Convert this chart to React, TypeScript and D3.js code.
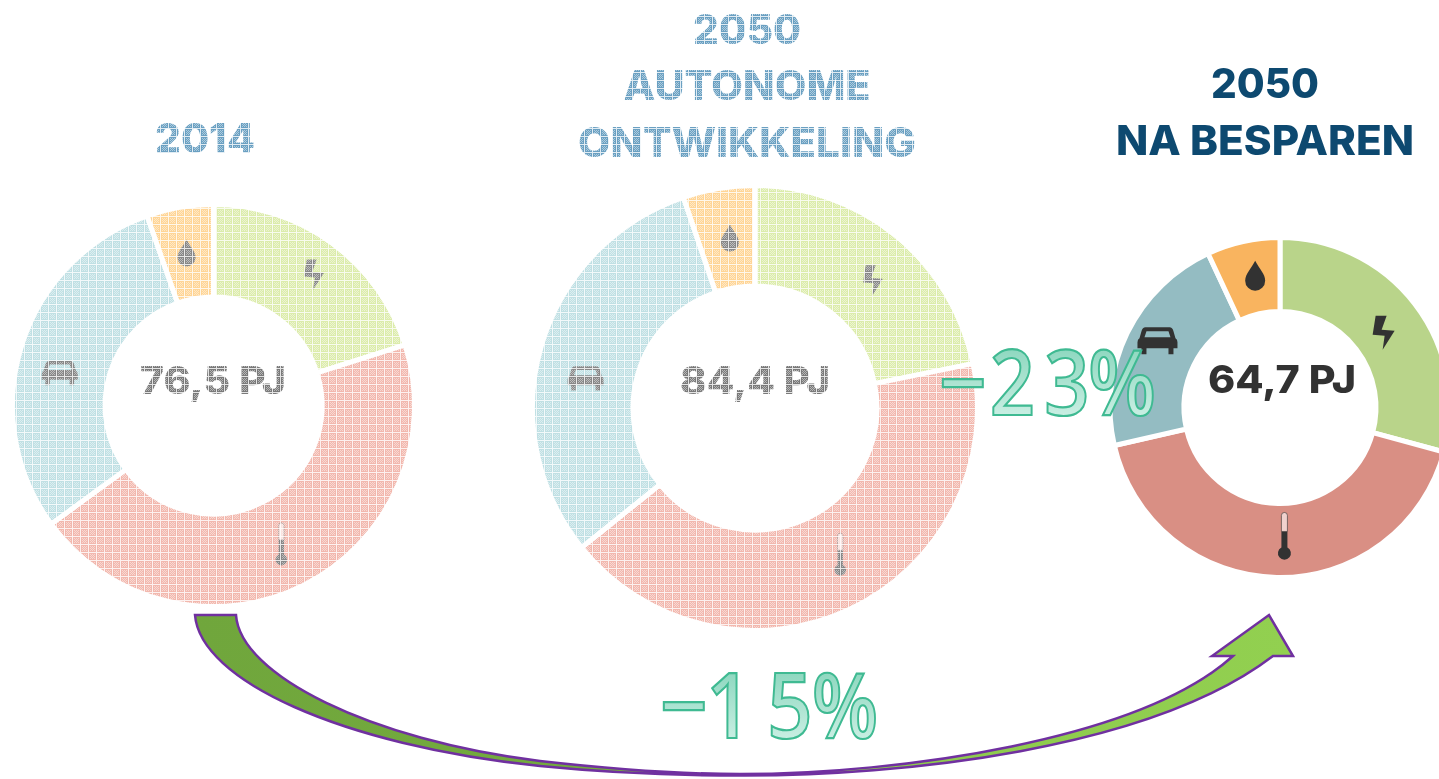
import React from "react";
import * as d3 from "d3";

const W = 1439, H = 779;
const categories = ["Elektriciteit", "Warmte", "Transport", "Olie"];
const values2014 = [15.4, 34.3, 22.7, 4.1];
const valuesAutonoom = [18.4, 35.8, 25.8, 4.4];
const valuesBesparen = [18.9, 27.3, 14.0, 4.5];
const totals = ["76,5 PJ", "84,4 PJ", "64,7 PJ"];
const titles2014 = ["2014"];
const titlesAutonoom = ["2050", "AUTONOME", "ONTWIKKELING"];
const titlesBesparen = ["2050", "NA BESPAREN"];
const savingsToAutonoom = ["−", "2", "3", "%"];
const savingsTo2014 = ["−", "1", "5", "%"];
const fadedColors = ["#dcecab", "#f2b8ae", "#c0e0e4", "#ffd596"];
const solidColors = ["#b9d48a", "#d98f84", "#94bcc2", "#f9b45e"];

const bolt = "M-8,-17 L3,-17 L-2,-3 L11,-2 L-1,17 L1,3 L-11,2 Z";
const drop = "M0,-15 C4,-7 10,-2 10,5 A10,10 0 0 1 -10,5 C-10,-2 -4,-7 0,-15 Z";
const car = "M-12,-14 L12,-14 Q15,-14 16,-10 L18,-3 Q20,-2 20,1 L20,7 L16,7 L16,13 L11,13 L11,7 L-11,7 L-11,13 L-16,13 L-16,7 L-20,7 L-20,1 Q-20,-2 -18,-3 L-16,-10 Q-15,-14 -12,-14 Z M-11,-10 L-13,-4 L13,-4 L11,-10 Z";
const thermoBody = "M-3,-4 L3,-4 L3,12 A6.5,6.5 0 1 1 -3,12 Z";
const thermoTube = "M-3,-20 A3,3 0 0 1 3,-20 L3,-4 L-3,-4 Z";
const iconPaths = [bolt, thermoBody, car, drop];

type DonutProps = { cx: number; cy: number; r: number; ri: number; values: number[]; colors: string[]; total: string; textColor: string; iconColor: string; labelY: number; labelW: number; labelX: number; gap: number; nudges: number[][]; iconScale: number };

function Donut({ cx, cy, r, ri, values, colors, total, textColor, iconColor, labelY, labelW, labelX, gap, nudges, iconScale }: DonutProps) {
  const pie = d3.pie<number>().sort(null).startAngle(0).endAngle(2 * Math.PI);
  const arc = d3.arc<d3.PieArcDatum<number>>().innerRadius(ri).outerRadius(r);
  const arcs = pie(values);
  return (
    <g>
      <g transform={`translate(${cx},${cy})`}>
        {arcs.map((a, i) => (
          <path key={categories[i]} d={arc(a) || ""} fill={colors[i]} stroke="#fff" strokeWidth={gap} strokeLinejoin="miter" />
        ))}
        {arcs.map((a, i) => {
          const [x, y] = arc.centroid(a);
          return (
            <g key={i} transform={`translate(${x + nudges[i][0]},${y + nudges[i][1]}) scale(${iconScale})`}>
              <path d={iconPaths[i]} fill={iconColor} fillRule="evenodd" />
              {i === 1 && <path d={thermoTube} fill="#fff" fillOpacity={0.6} stroke={iconColor} strokeOpacity={0.6} strokeWidth={1} />}
            </g>
          );
        })}
      </g>
      <text x={labelX} y={labelY} textAnchor="middle" fontFamily="Inter, sans-serif" fontWeight={800} fontSize={38} fill={textColor}
        textLength={labelW} lengthAdjust="spacingAndGlyphs">{total}</text>
    </g>
  );
}

function Title({ lines, x, ys, widths, color }: { lines: string[]; x: number; ys: number[]; widths: number[]; color: string }) {
  return (
    <g>
      {lines.map((l, i) => (
        <text key={l + i} x={x} y={ys[i]} textAnchor="middle" fontFamily="Inter, sans-serif" fontWeight={800} fontSize={41} fill={color}
          textLength={widths[i]} lengthAdjust="spacingAndGlyphs">{l}</text>
      ))}
    </g>
  );
}

function Percent({ glyphs, y, xs, scales }: { glyphs: string[]; y: number; xs: number[]; scales: number[] }) {
  return (
    <g>
      {glyphs.map((g, i) => (
        <text key={i} transform={`translate(${xs[i]},${y}) scale(${scales[i]},1)`} textAnchor="middle" fontFamily="'Open Sans', sans-serif" fontWeight={600} fontSize={90}
          fill="url(#pctFill)" stroke="#3fba92" strokeWidth={2.2}>{g}</text>
      ))}
    </g>
  );
}

function arrowPath() {
  const p = d3.path();
  p.moveTo(195, 615);
  p.bezierCurveTo(200, 680, 340, 745, 540, 766);
  p.bezierCurveTo(610, 773, 680, 775.5, 740, 775.5);
  p.bezierCurveTo(900, 776, 1150, 750, 1273, 656);
  p.lineTo(1293, 656);
  p.lineTo(1269, 615);
  p.lineTo(1212, 656);
  p.lineTo(1233, 656);
  p.bezierCurveTo(1140, 740, 900, 774, 740, 774);
  p.bezierCurveTo(680, 774, 610, 769, 540, 761);
  p.bezierCurveTo(370, 740, 240, 675, 236, 615);
  p.closePath();
  return p.toString();
}

export default function App() {
  return (
    <svg width={W} height={H} viewBox={`0 0 ${W} ${H}`} style={{ position: "fixed", left: 0, top: 0, background: "#fff", display: "block" }}>
      <defs>
        <pattern id="mesh" width={8} height={8} patternUnits="userSpaceOnUse">
          <path d="M0,0H8V1H0Z M0,1H1V8H0Z" fill="#fff" fillOpacity={0.8} />
          <path d="M2,2h1v1h-1z M4,2h1v1h-1z M6,2h1v1h-1z M3,3h1v1h-1z M5,3h1v1h-1z M2,4h1v1h-1z M4,4h1v1h-1z M6,4h1v1h-1z M3,5h1v1h-1z M5,5h1v1h-1z M2,6h1v1h-1z M4,6h1v1h-1z M6,6h1v1h-1z" fill="#fff" fillOpacity={0.45} />
        </pattern>
        <linearGradient id="arrowFill" x1="0" x2="1" y1="0" y2="0">
          <stop offset="0" stopColor="#70a63c" />
          <stop offset="0.45" stopColor="#74ac3e" />
          <stop offset="0.55" stopColor="#8cc84c" />
          <stop offset="1" stopColor="#92d050" />
        </linearGradient>
        <linearGradient id="pctFill" gradientUnits="userSpaceOnUse" x1="0" x2="0" y1="-65" y2="0">
          <stop offset="0" stopColor="#8fd8c0" />
          <stop offset="1" stopColor="#c8eee2" />
        </linearGradient>
        <filter id="soft" filterUnits="userSpaceOnUse" x="0" y="0" width={W} height={H}>
          <feGaussianBlur stdDeviation="0.5" />
        </filter>
      </defs>

      <g filter="url(#soft)">
        <Title lines={titles2014} x={205} ys={[153]} widths={[100]} color="#6aa0c2" />
        <Title lines={titlesAutonoom} x={747} ys={[44, 100, 157]} widths={[108, 247, 338]} color="#6aa0c2" />
        <Donut cx={213.5} cy={405.5} r={201} ri={108.5} values={values2014} colors={fadedColors} total={totals[0]} textColor="#7a7a7a" iconColor="#888" labelY={394} labelW={146} labelX={213} gap={5} iconScale={0.9}
          nudges={[[9, -6], [-2, 0], [-6, 14], [-1, 0]]} />
        <Donut cx={755} cy={408} r={222.5} ri={122} values={valuesAutonoom} colors={fadedColors} total={totals[1]} textColor="#7a7a7a" iconColor="#888" labelY={394} labelW={150} labelX={755} gap={5} iconScale={0.9}
          nudges={[[9, 6], [12, -10], [-4, 19], [3, 0]]} />
        <rect x={0} y={0} width={985} height={640} fill="url(#mesh)" />
      </g>

      <g filter="url(#soft)">
        <Title lines={titlesBesparen} x={1265} ys={[98, 155]} widths={[108, 298]} color="#0f4a70" />
        <Donut cx={1280} cy={407.5} r={170} ri={96} values={valuesBesparen} colors={solidColors} total={totals[2]} textColor="#333" iconColor="#333" labelY={393} labelW={148} labelX={1282} gap={5} iconScale={1}
          nudges={[[-2, 6], [7, -5], [-3, -8], [4, -2]]} />
      </g>

      <path d={arrowPath()} fill="url(#arrowFill)" stroke="#7030a0" strokeWidth={2.5} strokeLinejoin="miter" />

      <Percent glyphs={savingsToAutonoom} y={414.5} xs={[963, 1012.5, 1067, 1122]} scales={[0.93, 0.88, 0.88, 0.87]} />
      <Percent glyphs={savingsTo2014} y={738} xs={[684, 729, 790, 845]} scales={[0.93, 0.88, 0.88, 0.85]} />
    </svg>
  );
}
